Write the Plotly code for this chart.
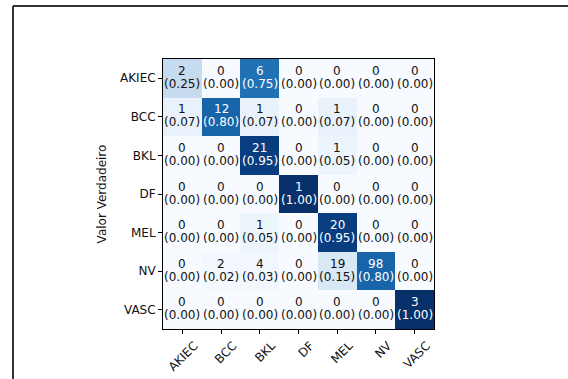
import plotly.graph_objects as go

# Confusion matrix: class labels, raw counts and row-normalised rates
classes = ["AKIEC", "BCC", "BKL", "DF", "MEL", "NV", "VASC"]

counts = [
    [2, 0, 6, 0, 0, 0, 0],
    [1, 12, 1, 0, 1, 0, 0],
    [0, 0, 21, 0, 1, 0, 0],
    [0, 0, 0, 1, 0, 0, 0],
    [0, 0, 1, 0, 20, 0, 0],
    [0, 2, 4, 0, 19, 98, 0],
    [0, 0, 0, 0, 0, 0, 3],
]

rates = [
    [0.25, 0.00, 0.75, 0.00, 0.00, 0.00, 0.00],
    [0.07, 0.80, 0.07, 0.00, 0.07, 0.00, 0.00],
    [0.00, 0.00, 0.95, 0.00, 0.05, 0.00, 0.00],
    [0.00, 0.00, 0.00, 1.00, 0.00, 0.00, 0.00],
    [0.00, 0.00, 0.05, 0.00, 0.95, 0.00, 0.00],
    [0.00, 0.02, 0.03, 0.00, 0.15, 0.80, 0.00],
    [0.00, 0.00, 0.00, 0.00, 0.00, 0.00, 1.00],
]

y_title = "Valor Verdadeiro"

# Sequential blue colour ramp (ColorBrewer Blues, 9 stops)
blues = ["#f7fbff", "#deebf7", "#c6dbef", "#9ecae1", "#6baed6",
         "#4292c6", "#2171b5", "#08519c", "#08306b"]
colorscale = [[i / (len(blues) - 1), c] for i, c in enumerate(blues)]

FONT = "DejaVu Sans"
n = len(classes)
idx = list(range(n))

fig = go.Figure(
    go.Heatmap(
        z=rates,
        x=idx,
        y=idx,
        colorscale=colorscale,
        zmin=0,
        zmax=1,
        showscale=False,
        hoverinfo="skip",
    )
)

# Cell annotations: count on the first line, rate in parentheses below
thresh = max(max(r) for r in rates) / 2
annotations = []
for i in range(n):
    for j in range(n):
        color = "white" if rates[i][j] > thresh else "#111111"
        annotations.append(dict(
            x=j, y=i, xref="x", yref="y", text=str(counts[i][j]),
            showarrow=False, yshift=7.5,
            font=dict(family=FONT, size=12, color=color),
        ))
        annotations.append(dict(
            x=j, y=i, xref="x", yref="y", text=f"({rates[i][j]:.2f})",
            showarrow=False, yshift=-5.5,
            font=dict(family=FONT, size=12, color=color),
        ))

# Outer figure frame: top and left edges
L, T, W, H = 163, 59, 271, 270
px = lambda v: (v - L) / W
py = lambda v: (T + H - v) / H
shapes = [
    dict(type="line", xref="paper", yref="paper",
         x0=px(13), x1=px(568), y0=py(6), y1=py(6),
         line=dict(color="#333333", width=2)),
    dict(type="line", xref="paper", yref="paper",
         x0=px(13), x1=px(13), y0=py(6), y1=py(380),
         line=dict(color="#333333", width=2)),
]

axis_common = dict(
    showgrid=False,
    zeroline=False,
    showline=True,
    linecolor="black",
    linewidth=1,
    mirror=True,
    ticks="outside",
    ticklen=4,
    tickwidth=1,
    tickcolor="black",
    tickvals=idx,
    ticktext=classes,
    tickfont=dict(family=FONT, size=12, color="#111111"),
    automargin=False,
)

fig.update_layout(
    width=568,
    height=379,
    margin=dict(l=L, r=568 - L - W, t=T, b=379 - T - H),
    paper_bgcolor="white",
    plot_bgcolor="white",
    xaxis=dict(range=[-0.5, n - 0.5], tickangle=-45, ticklabelshift=12,
               **axis_common),
    yaxis=dict(range=[n - 0.5, -0.5],
               title=dict(text=y_title, standoff=10,
                          font=dict(family=FONT, size=12, color="#111111")),
               **axis_common),
    annotations=annotations,
    shapes=shapes,
)

fig.write_html("out.html")
